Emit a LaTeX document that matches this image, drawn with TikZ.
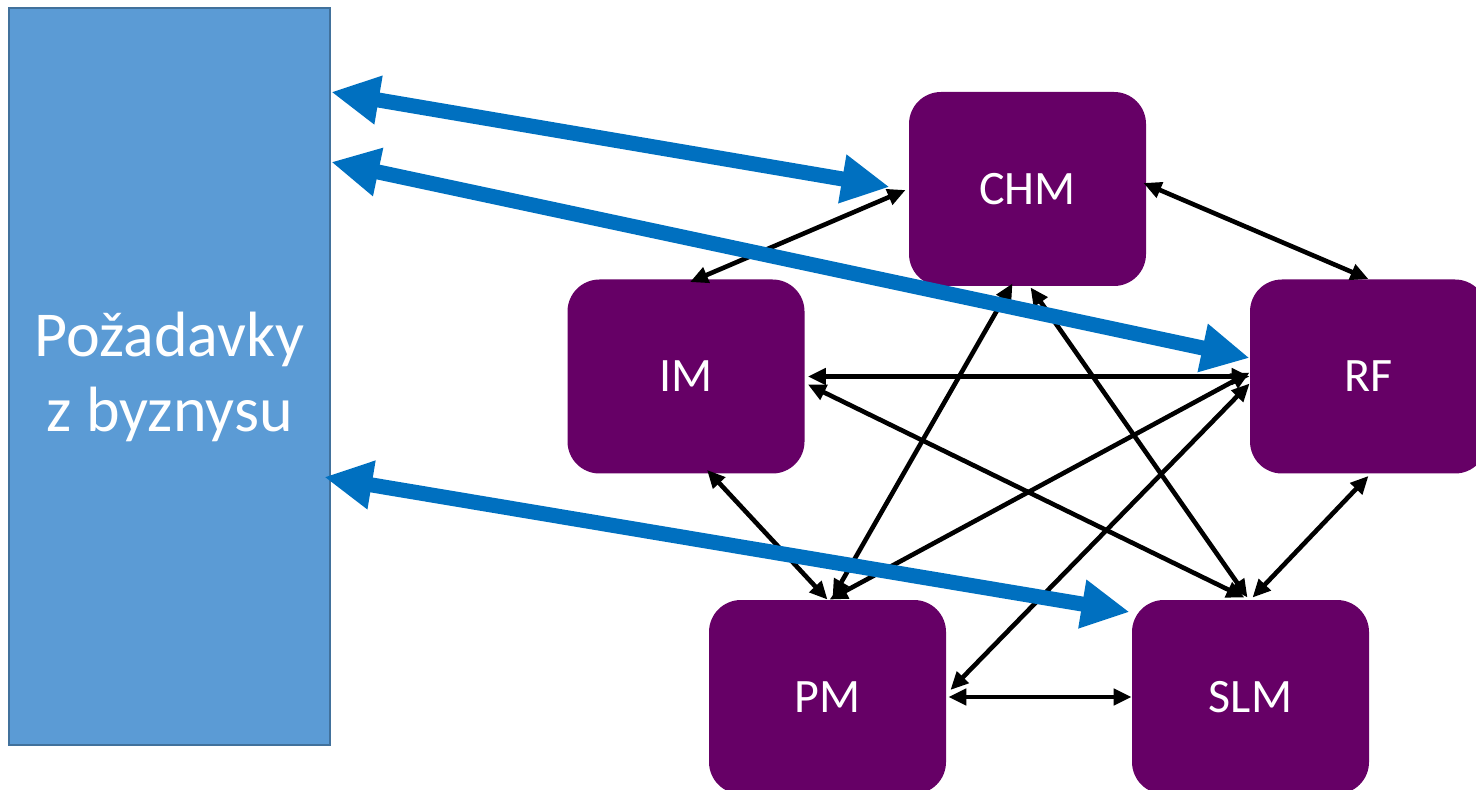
\documentclass[tikz,border=0pt]{standalone}
\usepackage{fontspec}
\setmainfont{Carlito}
\usetikzlibrary{arrows.meta,calc}
\definecolor{reqfill}{HTML}{5B9BD5}
\definecolor{reqline}{HTML}{41719C}
\definecolor{proc}{HTML}{660066}
\definecolor{flow}{HTML}{0070C0}
\tikzset{
  procbox/.style={rectangle, rounded corners=16pt, fill=proc, draw=none,
    minimum width=118.5pt, minimum height=97pt, inner sep=0pt,
    text=white, font=\fontsize{24}{28}\selectfont},
  reqbox/.style={rectangle, fill=reqfill, draw=reqline, line width=1.2pt,
    minimum width=160.5pt, minimum height=368.5pt, inner sep=0pt,
    text=white, align=center, font=\fontsize{32}{37.5}\selectfont},
  link/.style={line width=2.3pt, {Triangle[length=9pt,width=8pt]}-{Triangle[length=9pt,width=8pt]}},
  bigflow/.style={draw=flow, line width=7.5pt,
    {Triangle[length=24pt,width=23pt]}-{Triangle[length=24pt,width=23pt]}}
}
\begin{document}
\begin{tikzpicture}[x=0.5pt,y=-0.5pt]
  \useasboundingbox (0,0) rectangle (1476,790);
  \clip (0,0) rectangle (1476,790);

  % requirements block
  \node[reqbox] (req) at (169.5,376.5) {Požadavky\\z byznysu};

  % process boxes
  \node[procbox] (chm) at (1027.5,189) {CHM};
  \node[procbox] (im)  at (686,376.5)  {IM};
  \node[procbox] (rf)  at (1368.5,376.5) {RF};
  \node[procbox] (pm)  at (827.5,697)  {PM};
  \node[procbox] (slm) at (1250.5,697) {SLM};

  % links between processes
  \draw[link] ($(chm.west)+(-3,1)$) -- ($(im.north)+(4,3)$);
  \draw[link] ($(chm.east)+(-3,-6)$) -- (rf.north);
  \draw[link] ($(im.east)+(3,0)$) -- (rf.west);
  \draw[link] ($(im.south)+(21,-4)$) -- (pm.north);
  \draw[link] ($(rf.south)+(0,2)$) -- ($(slm.north)+(2,-2)$);
  \draw[link] ($(pm.east)+(2,0)$) -- (slm.west);
  \draw[link] ($(chm.south)+(-15,-3)$) -- ($(pm.north)+(5,-2)$);
  \draw[link] ($(chm.south)+(3,1)$) -- ($(slm.north)+(-3,-2)$);
  \draw[link] ($(im.east)+(3,8)$) -- ($(slm.north)+(-6,-2)$);
  \draw[link] ($(rf.west)+(0,-4)$) -- ($(pm.north)+(2,0)$);
  \draw[link] ($(rf.west)+(0,7)$) -- ($(pm.east)+(4,-7)$);

  % flows from the requirements block
  \coordinate (r1) at ($(req.east)+(0,-284.5)$);
  \coordinate (r2) at ($(req.east)+(0,-214.5)$);
  \coordinate (r3) at ($(req.east)+(-7,100.5)$);
  \draw[bigflow] (r1) -- ($(chm.west)+(-19,-2)$);
  \draw[bigflow] (r2) -- ($(rf.west)+(0,-18.5)$);
  \draw[bigflow] (r3) -- ($(slm.west)+(-2,-85)$);
\end{tikzpicture}
\end{document}
